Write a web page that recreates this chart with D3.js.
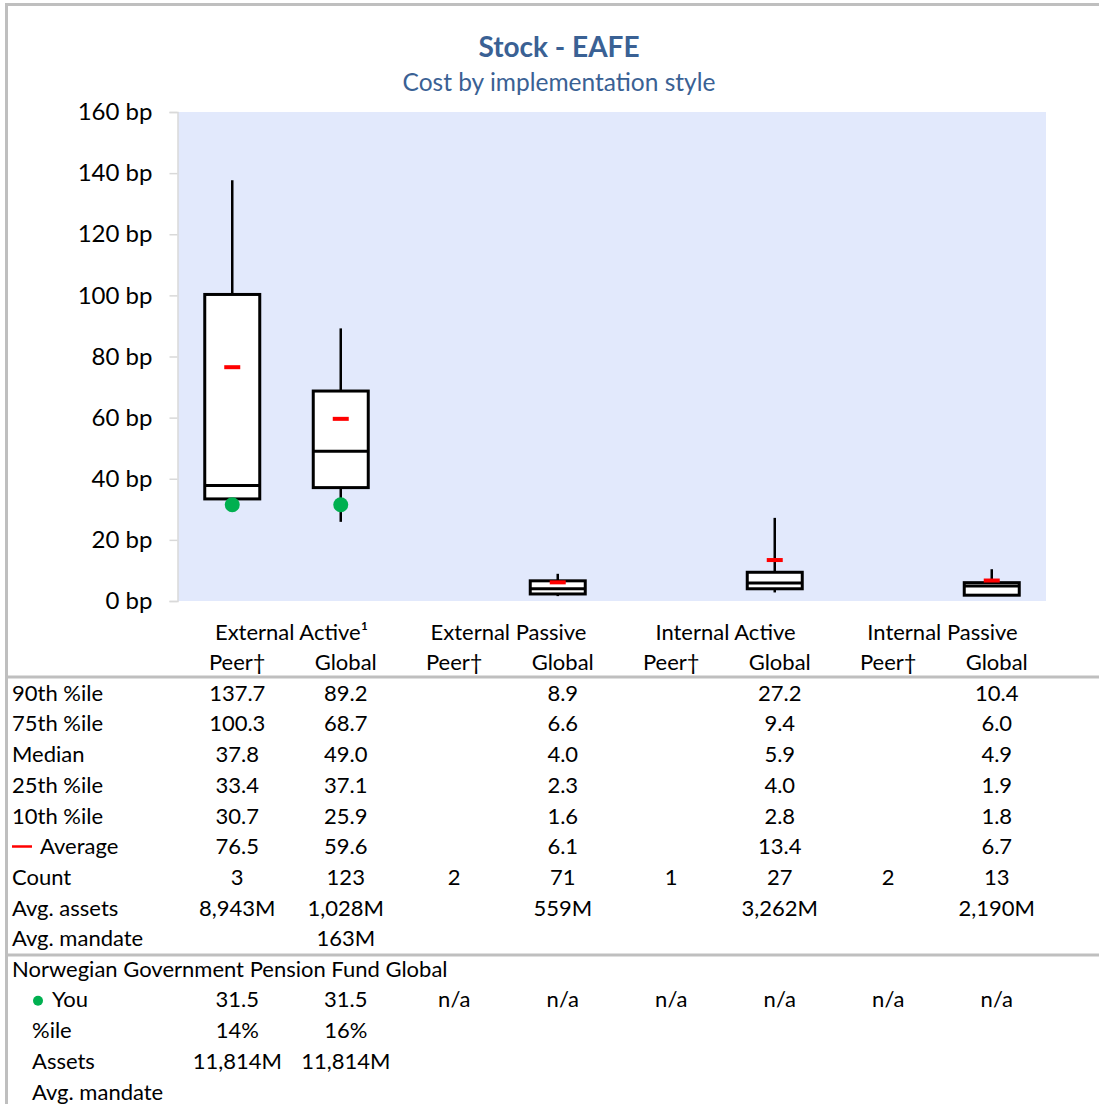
<!DOCTYPE html>
<html>
<head>
<meta charset="utf-8">
<script src="https://cdn.jsdelivr.net/npm/d3@7"></script>
<style>
    body { margin: 0; background: #fff; }
    text { font-family: Lato, "Open Sans", sans-serif; fill: #000; }
</style>
</head>
<body>
<div id="chart"></div>
<script>
// groups / columns
var groups = ["External Active\u00b9", "External Passive", "Internal Active", "Internal Passive"];
var columns = ["Peer\u2020", "Global"];

// one entry per column slot (peer, global, peer, global ...)
var p90 = [137.7, 89.2, null, 8.9, null, 27.2, null, 10.4];
var p75 = [100.3, 68.7, null, 6.6, null, 9.4, null, 6.0];
var median = [37.8, 49.0, null, 4.0, null, 5.9, null, 4.9];
var p25 = [33.4, 37.1, null, 2.3, null, 4.0, null, 1.9];
var p10 = [30.7, 25.9, null, 1.6, null, 2.8, null, 1.8];
var average = [76.5, 59.6, null, 6.1, null, 13.4, null, 6.7];
var count = [3, 123, 2, 71, 1, 27, 2, 13];
var avgAssets = ["8,943M", "1,028M", "", "559M", "", "3,262M", "", "2,190M"];
var avgMandate = ["", "163M", "", "", "", "", "", ""];

var fundName = "Norwegian Government Pension Fund Global";
var you = [31.5, 31.5, null, null, null, null, null, null];
var youPctile = ["14%", "16%", "", "", "", "", "", ""];
var youAssets = ["11,814M", "11,814M", "", "", "", "", "", ""];
var youMandate = ["", "", "", "", "", "", "", ""];

var yTicks = [0, 20, 40, 60, 80, 100, 120, 140, 160];

var width = 1099, height = 1104;
var plot = {left: 178, right: 1046, top: 112, bottom: 601};
var rowH = 30.7;
var titleColor = "#3a6194";

var svg = d3.select("#chart")
    .append("svg")
    .attr("width", width)
    .attr("height", height);

// outer frame
svg.append("path")
    .attr("d", "M6.5," + height + " V4.5 H" + width)
    .attr("fill", "none")
    .attr("stroke", "#bfbfbf")
    .attr("stroke-width", 3);

svg.append("text")
    .attr("x", 559).attr("y", 47)
    .attr("dy", "0.35em")
    .attr("text-anchor", "middle")
    .style("font-size", "28px")
    .style("font-weight", "bold")
    .style("fill", titleColor)
    .text("Stock - EAFE");

svg.append("text")
    .attr("x", 559).attr("y", 82)
    .attr("dy", "0.35em")
    .attr("text-anchor", "middle")
    .style("font-size", "24.5px")
    .style("fill", titleColor)
    .text("Cost by implementation style");

var slots = d3.range(groups.length * columns.length);

var x = d3.scaleBand()
    .domain(slots)
    .range([plot.left, plot.right]);

var y = d3.scaleLinear()
    .domain([0, 160])
    .range([plot.bottom, plot.top]);

var cx = function (i) { return x(i) + x.bandwidth() / 2; };

svg.append("rect")
    .attr("x", plot.left)
    .attr("y", plot.top)
    .attr("width", plot.right - plot.left)
    .attr("height", plot.bottom - plot.top)
    .attr("fill", "#e2e9fc");

var yAxis = svg.append("g")
    .attr("transform", "translate(" + (plot.left - 0.5) + ",0)")
    .call(d3.axisLeft(y)
        .tickValues(yTicks)
        .tickSize(8)
        .tickPadding(17)
        .tickFormat(function (d) { return d + " bp"; }));
yAxis.select(".domain").attr("stroke", "#d9d9d9").attr("stroke-width", 1.5);
yAxis.selectAll(".tick line").attr("stroke", "#d9d9d9").attr("stroke-width", 1.5);
yAxis.selectAll(".tick text")
    .style("font-family", "Lato, sans-serif")
    .style("font-size", "24px")
    .attr("fill", "#000");

// boxes
var boxW = 55;
var boxData = slots.filter(function (i) { return p75[i] != null; });

var box = svg.append("g").selectAll("g")
    .data(boxData)
    .enter()
    .append("g");

// whiskers
box.append("line")
    .attr("x1", cx).attr("x2", cx)
    .attr("y1", function (i) { return y(p90[i]); })
    .attr("y2", function (i) { return y(p10[i]); })
    .attr("stroke", "#000")
    .attr("stroke-width", 2.5);

box.append("rect")
    .attr("x", function (i) { return cx(i) - boxW / 2; })
    .attr("y", function (i) { return y(p75[i]); })
    .attr("width", boxW)
    .attr("height", function (i) { return y(p25[i]) - y(p75[i]); })
    .attr("fill", "#fff")
    .attr("stroke", "#000")
    .attr("stroke-width", 3);

box.append("line")
    .attr("x1", function (i) { return cx(i) - boxW / 2; })
    .attr("x2", function (i) { return cx(i) + boxW / 2; })
    .attr("y1", function (i) { return y(median[i]); })
    .attr("y2", function (i) { return y(median[i]); })
    .attr("stroke", "#000")
    .attr("stroke-width", 3);

box.append("rect")
    .attr("x", function (i) { return cx(i) - 8; })
    .attr("y", function (i) { return y(average[i]) - 2; })
    .attr("width", 16)
    .attr("height", 4)
    .attr("fill", "#ff0000");

svg.append("g").selectAll("circle")
    .data(slots.filter(function (i) { return you[i] != null; }))
    .enter()
    .append("circle")
    .attr("cx", cx)
    .attr("cy", function (i) { return y(you[i]); })
    .attr("r", 7.5)
    .attr("fill", "#00b050");

// ---- table below the chart ----
var tx = function (i) { return cx(i) + 5; };
var fs = "22px";

svg.append("g").selectAll("text")
    .data(groups)
    .enter()
    .append("text")
    .attr("x", function (d, g) { return (tx(g * 2) + tx(g * 2 + 1)) / 2; })
    .attr("y", 632)
    .attr("dy", "0.35em")
    .attr("text-anchor", "middle")
    .style("font-size", fs)
    .text(function (d) { return d; });

svg.append("g").selectAll("text")
    .data(slots)
    .enter()
    .append("text")
    .attr("x", tx)
    .attr("y", 662)
    .attr("dy", "0.35em")
    .attr("text-anchor", "middle")
    .style("font-size", fs)
    .text(function (i) { return columns[i % 2]; });

var fmt = function (v) { return v == null ? "" : d3.format(".1f")(v); };

var rows = [
    {label: "90th %ile", values: p90.map(fmt)},
    {label: "75th %ile", values: p75.map(fmt)},
    {label: "Median", values: median.map(fmt)},
    {label: "25th %ile", values: p25.map(fmt)},
    {label: "10th %ile", values: p10.map(fmt)},
    {label: "Average", values: average.map(fmt), mark: "avg"},
    {label: "Count", values: count.map(String)},
    {label: "Avg. assets", values: avgAssets},
    {label: "Avg. mandate", values: avgMandate}
];

var youRows = [
    {label: "You", values: you.map(function (v) { return v == null ? "n/a" : fmt(v); }), mark: "you", indent: true},
    {label: "%ile", values: youPctile, indent: true},
    {label: "Assets", values: youAssets, indent: true},
    {label: "Avg. mandate", values: youMandate, indent: true}
];

function drawRows(list, y0) {
    list.forEach(function (r, k) {
        var ry = y0 + k * rowH;
        var lx = r.indent ? 32 : 12;
        if (r.mark === "avg") {
            svg.append("line")
                .attr("x1", 12).attr("x2", 32)
                .attr("y1", ry).attr("y2", ry)
                .attr("stroke", "#ff0000").attr("stroke-width", 2.5);
            lx = 40;
        }
        if (r.mark === "you") {
            svg.append("circle")
                .attr("cx", 38).attr("cy", ry + 1)
                .attr("r", 5)
                .attr("fill", "#00b050");
            lx = 52;
        }
        svg.append("text")
            .attr("x", lx).attr("y", ry)
            .attr("dy", "0.35em")
            .style("font-size", fs)
            .text(r.label);

        svg.append("g").selectAll("text")
            .data(r.values)
            .enter()
            .append("text")
            .attr("x", function (d, i) { return tx(i); })
            .attr("y", ry)
            .attr("dy", "0.35em")
            .attr("text-anchor", "middle")
            .style("font-size", fs)
            .text(function (d) { return d; });
    });
}

drawRows(rows, 693);

svg.append("text")
    .attr("x", 12).attr("y", 969)
    .attr("dy", "0.35em")
    .style("font-size", fs)
    .text(fundName);

drawRows(youRows, 969 + rowH);

// separators
[677, 955].forEach(function (sy) {
    svg.append("line")
        .attr("x1", 8).attr("x2", width)
        .attr("y1", sy).attr("y2", sy)
        .attr("stroke", "#bfbfbf")
        .attr("stroke-width", 3);
});
</script>
</body>
</html>
